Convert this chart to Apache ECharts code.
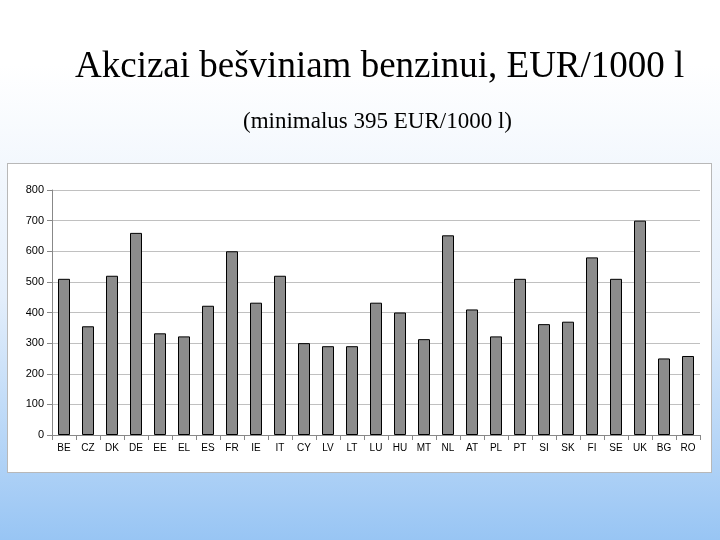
<!DOCTYPE html>
<html><head><meta charset="utf-8">
<script src="https://cdn.jsdelivr.net/npm/echarts@6/dist/echarts.min.js"></script>
<style>
html,body{margin:0;padding:0;width:720px;height:540px;overflow:hidden;
background:linear-gradient(to bottom,#ffffff 0%,#ffffff 12%,#e3eefb 55%,#98c5f4 100%);}
#panel{position:absolute;left:7px;top:163px;width:705px;height:310px;background:#fff;border:1px solid #b8b8b8;box-sizing:border-box;}
#c{position:absolute;left:0;top:0;width:720px;height:540px;}
</style></head><body>
<div id="panel"></div>
<div id="c"></div>
<script>
const categories=['BE','CZ','DK','DE','EE','EL','ES','FR','IE','IT','CY','LV','LT','LU','HU','MT','NL','AT','PL','PT','SI','SK','FI','SE','UK','BG','RO'];
const values=[510,355,520,660,332,322,422,600,432,520,300,290,290,432,400,313,652,410,322,510,362,370,580,510,700,250,258];
const yTicks=[0,100,200,300,400,500,600,700,800];
const ch=echarts.init(document.getElementById('c'));
ch.setOption({
 animation:false,
 title:[
  {text:'Akcizai bešviniam benzinui, EUR/1000 l',left:70,top:44,textStyle:{fontFamily:'Liberation Serif',fontSize:37,fontWeight:'normal',color:'#000'}},
  {text:'(minimalus 395 EUR/1000 l)',left:238,top:105,textStyle:{fontFamily:'Liberation Serif',fontSize:23,fontWeight:'normal',color:'#000'}}
 ],
 grid:{left:52,right:20,top:190,bottom:105},
 xAxis:{type:'category',data:categories,axisTick:{show:true,lineStyle:{color:'#888'}},axisLine:{lineStyle:{color:'#888'}},
  axisLabel:{color:'#000',fontSize:10,fontFamily:'Liberation Sans',interval:0}},
 yAxis:{type:'value',min:yTicks[0],max:yTicks[yTicks.length-1],interval:100,
  axisLine:{show:true,lineStyle:{color:'#888'}},axisTick:{show:true,lineStyle:{color:'#888'}},
  axisLabel:{color:'#000',fontSize:11,fontFamily:'Liberation Sans'},splitLine:{lineStyle:{color:'#c0c0c0'}}},
 series:[{type:'bar',data:values,barWidth:'50%',itemStyle:{color:'#8c8c8c',borderColor:'#000',borderWidth:1}}]
});
</script></body></html>
